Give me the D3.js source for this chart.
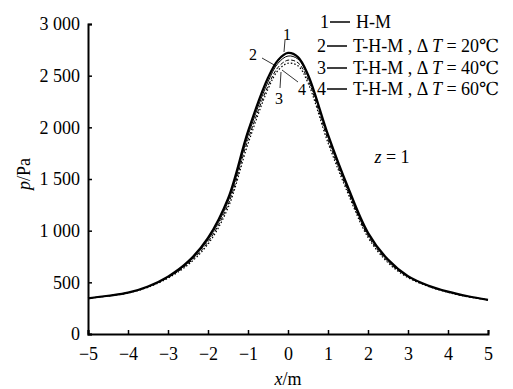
<!DOCTYPE html>
<html>
<head>
<meta charset="utf-8">
<script src="https://cdn.jsdelivr.net/npm/d3@7"></script>
<style>
  body { margin: 0; background: #fff; }
  svg text { font-family: "Liberation Serif", "DejaVu Serif", serif; fill: #000; }
</style>
</head>
<body>
<script>
// x positions (m)
const xs = [-5, -4.5, -4, -3.5, -3, -2.5, -2, -1.5, -1, -0.5, -0.25, 0, 0.25, 0.5, 1, 1.5, 2, 2.5, 3, 3.5, 4, 4.5, 5];
// pressure p (Pa) for each model
const pHM   = [345, 370, 400, 460, 555, 700, 930, 1310, 1960, 2480, 2650, 2720, 2680, 2510, 1930, 1420, 980, 720, 560, 470, 410, 365, 330];
const pT20  = [345, 370, 400, 458, 550, 690, 910, 1280, 1920, 2440, 2620, 2690, 2660, 2490, 1910, 1400, 965, 710, 555, 468, 408, 363, 330];
const pT40  = [345, 368, 398, 455, 545, 680, 890, 1250, 1880, 2400, 2580, 2650, 2625, 2460, 1880, 1380, 950, 700, 550, 465, 405, 362, 330];
const pT60  = [345, 368, 396, 452, 540, 670, 870, 1220, 1840, 2370, 2550, 2620, 2595, 2430, 1850, 1360, 935, 690, 545, 462, 403, 360, 330];

const seriesNames = ["1", "2", "3", "4"];
const legendLabels = ["H-M", "T-H-M , \u0394 T = 20\u2103", "T-H-M , \u0394 T = 40\u2103", "T-H-M , \u0394 T = 60\u2103"];
const xTicks = [-5, -4, -3, -2, -1, 0, 1, 2, 3, 4, 5];
const yTicks = [0, 500, 1000, 1500, 2000, 2500, 3000];

const width = 513, height = 389;
const svg = d3.select("body").append("svg")
    .attr("width", width)
    .attr("height", height);

const x = d3.scaleLinear().domain([-5, 5]).range([88, 488]);
const y = d3.scaleLinear().domain([0, 3000]).range([334, 24]);

// number format with space thousands and true minus sign
const loc = d3.formatLocale({ decimal: ".", thousands: " ", grouping: [3], currency: ["", ""], minus: "\u2212" });
const fmt = loc.format(",");

// axes, ticks pointing inward
const xAxis = svg.append("g")
    .attr("transform", "translate(0," + y(0) + ")")
    .call(d3.axisBottom(x).tickValues(xTicks).tickSize(-4).tickPadding(10).tickFormat(fmt));
const yAxis = svg.append("g")
    .attr("transform", "translate(" + x(-5) + ",0)")
    .call(d3.axisLeft(y).tickValues(yTicks).tickSize(-4).tickPadding(8).tickFormat(fmt));

[xAxis, yAxis].forEach(function (g) {
    g.select(".domain").attr("stroke", "#000").attr("stroke-width", 2);
    g.selectAll(".tick line").attr("stroke", "#000").attr("stroke-width", 1.5);
    g.selectAll(".tick text").style("font-size", "18px").attr("fill", "#000")
        .style("font-family", "'Liberation Serif', serif");
});
xAxis.selectAll(".tick text").attr("dy", "0.9em");

// axis titles
svg.append("text")
    .attr("x", x(0)).attr("y", 385)
    .attr("text-anchor", "middle")
    .style("font-size", "18px")
    .html('<tspan font-style="italic">x</tspan>/m');

svg.append("text")
    .attr("transform", "translate(30,174) rotate(-90)")
    .attr("text-anchor", "middle")
    .style("font-size", "18px")
    .html('<tspan font-style="italic">p</tspan>/Pa');

// curves
const allSeries = [pHM, pT20, pT40, pT60];
const styles = [
    { w: 2.2, dash: null },
    { w: 1, dash: null },
    { w: 1, dash: "4,2" },
    { w: 1.2, dash: "1.5,2" }
];
const line = d3.line()
    .x(function (d, i) { return x(xs[i]); })
    .y(function (d) { return y(d); })
    .curve(d3.curveCatmullRom);

allSeries.forEach(function (s, k) {
    svg.append("path")
        .datum(s)
        .attr("d", line)
        .attr("fill", "none")
        .attr("stroke", "#000")
        .attr("stroke-width", styles[k].w)
        .attr("stroke-dasharray", styles[k].dash);
});

// legend
const legY = [22, 46, 68, 89];
const legX = [320, 317, 317, 317];
seriesNames.forEach(function (n, i) {
    svg.append("text")
        .attr("x", legX[i]).attr("y", legY[i])
        .attr("dy", "0.35em")
        .style("font-size", "18px")
        .text(n);
    svg.append("line")
        .attr("x1", legX[i] + 10).attr("x2", legX[i] + 30)
        .attr("y1", legY[i]).attr("y2", legY[i])
        .attr("stroke", "#000").attr("stroke-width", 1.5);
    const t = svg.append("text")
        .attr("x", legX[i] + 36).attr("y", legY[i])
        .attr("dy", "0.35em")
        .style("font-size", "18px");
    if (i === 0) {
        t.text(legendLabels[i]);
    } else {
        const parts = legendLabels[i].split("T = ");
        t.append("tspan").text(parts[0]);
        t.append("tspan").attr("font-style", "italic").text("T");
        t.append("tspan").text(" = " + parts[1]);
    }
});

// curve number labels with leader lines
const callouts = [
    { t: "1", tx: 287, ty: 34, x1: 285, y1: 40, x2: 284, y2: 52 },
    { t: "2", tx: 253, ty: 54, x1: 262, y1: 58, x2: 276, y2: 66 },
    { t: "3", tx: 279, ty: 98, x1: 280, y1: 88, x2: 281, y2: 72 },
    { t: "4", tx: 302, ty: 89, x1: 298, y1: 82, x2: 282, y2: 70 }
];
callouts.forEach(function (c) {
    svg.append("line")
        .attr("x1", c.x1).attr("y1", c.y1).attr("x2", c.x2).attr("y2", c.y2)
        .attr("stroke", "#000").attr("stroke-width", 0.8);
    svg.append("text")
        .attr("x", c.tx).attr("y", c.ty)
        .attr("dy", "0.35em")
        .attr("text-anchor", "middle")
        .style("font-size", "16px")
        .text(c.t);
});

// z = 1 note
svg.append("text")
    .attr("x", 392).attr("y", 157)
    .attr("dy", "0.35em")
    .attr("text-anchor", "middle")
    .style("font-size", "18px")
    .html('<tspan font-style="italic">z</tspan> = 1');
</script>
</body>
</html>
